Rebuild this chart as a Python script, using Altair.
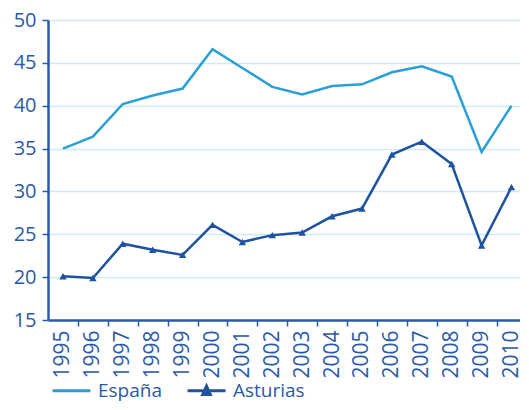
import altair as alt
import pandas as pd

years = [str(y) for y in range(1995, 2011)]
espana = [35.0, 36.4, 40.2, 41.2, 42.0, 46.6, 44.4, 42.2, 41.3, 42.3, 42.5, 43.9, 44.6, 43.4, 34.6, 40.0]
asturias = [20.1, 19.9, 23.9, 23.2, 22.6, 26.1, 24.1, 24.9, 25.2, 27.1, 28.0, 34.3, 35.8, 33.2, 23.7, 30.5]
series = ["España", "Asturias"]
y_ticks = [15, 20, 25, 30, 35, 40, 45, 50]

df = pd.DataFrame(
    {"year": years * 2,
     "value": espana + asturias,
     "serie": [series[0]] * len(years) + [series[1]] * len(years)}
)

C_ESP = "#2a9fd8"
C_AST = "#1f53a0"
AXIS = "#2b5aa8"
GRID = "#cdeaf8"
FONT = "Open Sans"

x = alt.X("year:O",
          scale=alt.Scale(type="point", padding=0.393, align=0.638),
          axis=alt.Axis(title=None, labelAngle=270, labelAlign="right", labelBaseline="middle",
                        labelFontSize=21, labelColor=AXIS, labelFont=FONT, labelPadding=4,
                        tickOffset=15, labelOffset=-15,
                        tickColor=AXIS, tickSize=6, tickWidth=1.5,
                        domainColor=AXIS, domainWidth=2.5, grid=False))
y = alt.Y("value:Q", scale=alt.Scale(domain=[15, 50], nice=False, zero=False),
          axis=alt.Axis(title=None, values=y_ticks, labelFontSize=20, labelColor=AXIS,
                        labelFont=FONT, labelPadding=6, tickColor=AXIS, tickSize=6, tickWidth=1.5,
                        domainColor=AXIS, domainWidth=2.5, gridColor=GRID, gridWidth=1.5))

shape_expr = "datum.value === 'Asturias' ? 'M-1,0H1M-0.2,0.2L0,-0.24L0.2,0.2Z' : 'M-1,0H1'"
fill_expr = "datum.value === 'Asturias' ? '" + C_AST + "' : 'transparent'"

color = alt.Color("serie:N", scale=alt.Scale(domain=series, range=[C_ESP, C_AST]),
                  legend=alt.Legend(
                      title=None, orient="none", direction="horizontal",
                      legendX=3, legendY=350,
                      symbolType={"expr": shape_expr},
                      symbolFillColor={"expr": fill_expr},
                      symbolSize=1444, symbolStrokeWidth=3,
                      labelFontSize=19, labelColor=AXIS, labelFont=FONT,
                      labelOffset=6, columnPadding=18))

lines = alt.Chart(df).mark_line(strokeWidth=2.5).encode(x=x, y=y, color=color)
pts = alt.Chart(df).transform_filter(alt.datum.serie == "Asturias").mark_point(
    shape="triangle-up", filled=True, size=55, opacity=1, color=C_AST
).encode(x=x, y=y)

chart = alt.layer(lines, pts).properties(
    width=472, height=300,
    autosize=alt.AutoSizeParams(type="none"),
    padding={"left": 40, "top": 12, "right": 0, "bottom": 82},
).configure_view(stroke=None)

chart.save("out.html", embed_options={"renderer": "svg", "actions": False})
